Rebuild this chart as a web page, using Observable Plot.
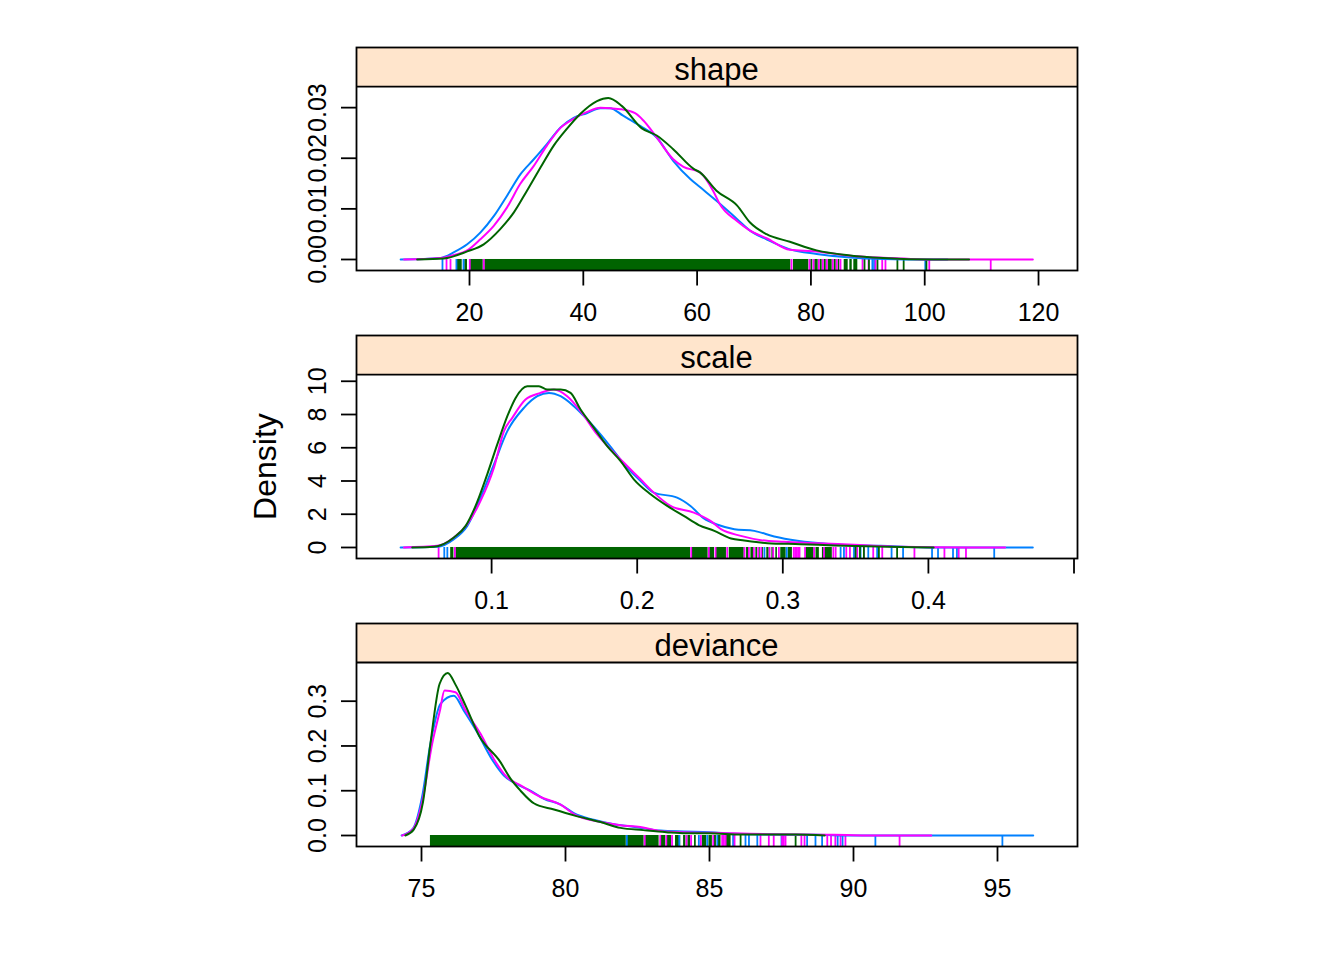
<!DOCTYPE html>
<html>
<head>
<meta charset="utf-8">
<script src="https://cdn.jsdelivr.net/npm/d3@7"></script>
<script src="https://cdn.jsdelivr.net/npm/@observablehq/plot@0.6"></script>
<style>
html,body{margin:0;background:#fff}
#chart{padding-top:35px;width:1344px}
#chart svg{display:block;overflow:visible;background:transparent;font-family:"Liberation Sans",Arial,sans-serif}
</style>
</head>
<body>
<div id="chart"></div>
<script>
const BLUE = "#0080ff", MAGENTA = "#ff00ff", GREEN = "#006400", STRIP = "#ffe5cc";

// ---- shape ----
const shapeBlueX = [7.9,14.9,17.2,19.6,21.9,24.3,26.6,29,31.3,33.6,36,38.3,40.6,43,44.7,47,50,52.9,55.8,58.8,60.5,63.4,67,69.3,72.2,76.3,81,86.9,92.7,100.3,104];
const shapeBlueY = [0,.0003,.0014,.003,.0053,.0086,.0126,.0169,.0198,.0228,.0261,.028,.0289,.0299,.0299,.0284,.0264,.0241,.0195,.0159,.0143,.0116,.008,.0057,.004,.002,.0011,.0004,.0001,0,0];
const shapeMagentaX = [8.5,14.9,17.25,19.6,21.9,24.3,26.6,28.9,31.3,33.6,36,38.3,40.6,43,46.5,49.1,50.6,52.9,55.8,57.6,60.5,62.8,64,67,69.3,72.2,76.3,81,85.7,89.8,94.2,100.3,119];
const shapeMagentaY = [0,.0003,.0009,.0018,.004,.0067,.0103,.0149,.0185,.0225,.026,.0278,.0291,.03,.0297,.0289,.0274,.0241,.0198,.0183,.0172,.0136,.0109,.0076,.0057,.0042,.0019,.0016,.0009,.0005,.0003,0,0];
const shapeGreenX = [10.8,15.5,19.6,22.5,25.4,27.8,30.1,32.5,34.8,37.1,39.5,42.4,44.4,46.8,50.3,52.9,55.8,59.4,60.5,63.4,67,69.3,72.2,76.3,81,86.9,92.7,101.5,107.8];
const shapeGreenY = [0,.0002,.0016,.003,.006,.0093,.0136,.0182,.0225,.0258,.0288,.0313,.0319,.0303,.0259,.0245,.0218,.0179,.0172,.0136,.0107,.0073,.005,.0035,.0018,.0008,.0003,0,0];
const shapeBandStart = [17.89,19.17,20.09,22.69,76.94,79.98,80.68,81.63,82.33,83.04,84.09,84.8,85.85,86.84,87.54];
const shapeBandEnd = [18.72,19.65,22.41,76.47,79.63,80.33,81.28,81.98,82.69,83.74,84.44,85.08,86.55,87.26,88.24];
const shapeRugBlue = [15.25,17.7,18.95,90.8,91.1,100.1];
const shapeRugMagenta = [15.96,16.66,20.05,22.51,76.6,79.75,80.46,81.4,82.1,82.8,83.85,84.55,85.2,89.07,90.13,91.35,92.53,93.1,100.8,111.6];
const shapeRugGreen = [89.42,90.2,91.7,95.2,96.3,100.3];
const shapeXTicks = [20,40,60,80,100,120];
const shapeYTicks = [0,.01,.02,.03];

// ---- scale ----
const scaleBlueX = [.0375,.0627,.0741,.0833,.0924,.1016,.1108,.1222,.1314,.1394,.1474,.1565,.1657,.1748,.184,.1931,.2023,.2114,.2274,.2366,.2458,.2553,.2667,.2804,.2941,.31,.3329,.3671,.4036,.4717];
const scaleBlueY = [0,.04,.5,1.3,3,5,7,8.4,9.1,9.3,9.1,8.5,7.7,6.8,5.8,4.8,4,3.3,3,2.5,1.75,1.37,1.1,1,.66,.4,.2,.1,0,0];
const scaleMagentaX = [.0398,.0627,.0741,.0833,.0924,.1016,.1085,.1142,.1233,.1336,.1428,.1519,.1611,.1725,.184,.1931,.2023,.2114,.2229,.2389,.2503,.2575,.2712,.285,.3009,.3237,.3489,.3808,.4265,.4527];
const scaleMagentaY = [0,.1,.6,1.4,2.8,4.8,7,7.8,8.9,9.3,9.5,9.1,8.2,6.8,5.7,4.9,4.1,3.3,2.5,2.1,1.6,1.1,.7,.44,.34,.26,.16,.04,0,0];
const scaleGreenX = [.0455,.0604,.0741,.0822,.089,.097,.1039,.1108,.1165,.1245,.1325,.1382,.1474,.1542,.1611,.1703,.1794,.1886,.1977,.2092,.2206,.232,.2423,.253,.2644,.2735,.2895,.3123,.3352,.3717,.4036];
const scaleGreenY = [0,.04,.6,1.3,2.5,4.4,6.2,7.9,9,9.7,9.7,9.5,9.5,9.3,8.3,7.2,6.1,5.2,4.1,3.2,2.5,1.9,1.35,1,.54,.42,.26,.2,.12,.04,0];
const scaleBandStart = [.0719,.0755,.2375,.2497,.2545,.2632,.2751,.2781,.2815,.284,.2861,.289,.2925,.2952,.2986,.3037,.316,.3228,.3272];
const scaleBandEnd = [.0741,.2366,.2487,.2531,.2613,.2735,.2765,.2799,.2826,.2845,.2868,.2906,.2936,.2963,.3023,.3066,.3215,.3251,.334];
const scaleRugBlue = [.0675,.0696,.2874,.3027,.3397,.342,.3489,.3534,.3587,.3648,.3747,.3826,.4025,.4066,.4169,.4196,.4452];
const scaleRugMagenta = [.0636,.0748,.2371,.2492,.2538,.2618,.2737,.2767,.2801,.2831,.2852,.2909,.2934,.2973,.3075,.3085,.3095,.3105,.3115,.3153,.3215,.3283,.3347,.3363,.3436,.3461,.3511,.3557,.3621,.3683,.3904,.411,.4208,.4258];
const scaleRugGreen = [.35,.353,.3557,.366,.3785];
const scaleXTicks = [.1,.2,.3,.4,.5];
const scaleXLabels = ["0.1","0.2","0.3","0.4",""];
const scaleYTicks = [0,2,4,6,8,10];

// ---- deviance ----
const devBlueX = [74.31,74.71,75.02,75.31,75.66,76.12,76.47,76.93,77.4,77.86,78.32,78.78,79.25,79.83,80.29,80.98,81.68,82.4,83.3,84.1,85,85.85,87,88.7,90,96.24];
const devBlueY = [0,.016,.086,.205,.294,.312,.279,.231,.175,.134,.114,.1,.082,.069,.05,.035,.025,.019,.011,.009,.0075,.004,.002,.0015,0,0];
const devMagentaX = [74.33,74.71,75.02,75.37,75.64,75.8,76.18,76.53,77.05,77.51,77.97,78.44,79.13,79.83,80.29,81.22,81.9,82.6,83.3,84.1,85,85.85,87,88.2,89.3,91,92.7];
const devMagentaY = [0,.015,.074,.205,.279,.324,.32,.279,.227,.171,.13,.112,.086,.069,.048,.03,.023,.019,.01,.007,.006,.005,.003,.002,.0015,0,0];
const devGreenX = [74.44,74.73,75.05,75.31,75.63,75.91,76.18,76.53,77,77.74,78.09,78.44,78.9,79.6,80.29,81.22,81.91,82.7,83.5,84.2,85,86.1,88,89];
const devGreenY = [0,.013,.074,.205,.339,.363,.337,.29,.223,.164,.127,.1,.072,.058,.045,.03,.017,.012,.0075,.005,.005,.002,.002,0];
const devBandStart = [75.31,82.14,82.78,83.3,83.52,83.82,84.1,84.25,84.48,84.75,84.98,85.15,85.29,85.59];
const devBandEnd = [82.11,82.73,83.25,83.48,83.68,84,84.18,84.34,84.54,84.9,85.1,85.24,85.4,85.75];
const devRugBlue = [82.13,83.95,84.63,84.92,85.27,85.82,86.25,86.37,86.66,87.5,88.39,88.68,88.91,89.45,89.62,90.76,95.17];
const devRugMagenta = [82.75,83.29,83.5,83.7,84.2,84.36,84.7,85.13,85.44,85.5,85.56,85.87,86.77,87.06,87.23,87.52,87.58,87.64,88.19,88.3,89.09,89.22,89.37,89.55,89.72,91.6];
const devRugGreen = [86.08,87.99];
const devXTicks = [75,80,85,90,95];
const devYTicks = [0,.1,.2,.3];

const panels = [
  {name:"shape", xDomain:[.14,126.85], yDomain:[-.002176,.04188], stripBottom:.03416,
   xTicks:shapeXTicks, xLabels:shapeXTicks.map(String), yTicks:shapeYTicks, yFmt:d3.format(".2f"),
   blue:[shapeBlueX,shapeBlueY], magenta:[shapeMagentaX,shapeMagentaY], green:[shapeGreenX,shapeGreenY],
   bandStart:shapeBandStart, bandEnd:shapeBandEnd, rugB:shapeRugBlue, rugM:shapeRugMagenta, rugG:shapeRugGreen},
  {name:"scale", xDomain:[.00721,.5024], yDomain:[-.6627,12.753], stripBottom:10.404,
   xTicks:scaleXTicks, xLabels:scaleXLabels, yTicks:scaleYTicks, yFmt:d3.format("d"),
   blue:[scaleBlueX,scaleBlueY], magenta:[scaleMagentaX,scaleMagentaY], green:[scaleGreenX,scaleGreenY],
   bandStart:scaleBandStart, bandEnd:scaleBandEnd, rugB:scaleRugBlue, rugM:scaleRugMagenta, rugG:scaleRugGreen,
   yLabel:"Density", yLabelAt:4.87},
  {name:"deviance", xDomain:[72.743,97.778], yDomain:[-.02457,.47353], stripBottom:.38642,
   xTicks:devXTicks, xLabels:devXTicks.map(String), yTicks:devYTicks, yFmt:d3.format(".1f"),
   blue:[devBlueX,devBlueY], magenta:[devMagentaX,devMagentaY], green:[devGreenX,devGreenY],
   bandStart:devBandStart, bandEnd:devBandEnd, rugB:devRugBlue, rugM:devRugMagenta, rugG:devRugGreen}
];

const LW = 1.8;
const CURVE_W = 2;
const root = document.getElementById("chart");
for (const p of panels) {
  const yMin = p.yDomain[0], yMax = p.yDomain[1];
  const rug = (vals, color) => Plot.ruleX(vals, {x: d => d, y1: 0, y2: yMin, stroke: color, strokeWidth: LW});
  const curve = ([xs, ys], color) => Plot.line(ys, {x: xs, y: ys, stroke: color, strokeWidth: CURVE_W, curve: "monotone-x"});
  const labelOf = new Map(p.xTicks.map((t, i) => [t, p.xLabels[i]]));
  const marks = [
    Plot.rect([p.name], {y1: p.stripBottom, y2: yMax, fill: STRIP}),
    Plot.rect(p.bandStart, {x1: d => d, x2: (d, i) => p.bandEnd[i], y1: 0, y2: yMin, fill: GREEN}),
    rug(p.rugB, BLUE),
    rug(p.rugM, MAGENTA),
    rug(p.rugG, GREEN),
    curve(p.blue, BLUE),
    curve(p.magenta, MAGENTA),
    curve(p.green, GREEN),
    Plot.ruleY([p.stripBottom], {stroke: "black", strokeWidth: LW}),
    Plot.frame({stroke: "black", strokeWidth: LW}),
    Plot.text([p.name], {x: (p.xDomain[0] + p.xDomain[1]) / 2, y: (p.stripBottom + yMax) / 2, dy: 3.5, dx: -0.5, fontSize: 31, fill: "black"}),
    Plot.axisX(p.xTicks, {anchor: "bottom", tickSize: 15.5, tickPadding: 17, fontSize: 25, strokeWidth: LW, stroke: "black", fill: "black", tickFormat: d => labelOf.get(d), label: null}),
    Plot.axisY(p.yTicks, {anchor: "left", tickSize: 15, strokeWidth: LW, stroke: "black", tickFormat: () => "", label: null}),
    Plot.text(p.yTicks, {y: d => d, text: p.yFmt, frameAnchor: "left", dx: -39, rotate: -90, fontSize: 25, fill: "black", textAnchor: "middle", lineAnchor: "middle"})
  ];
  if (p.yLabel) marks.push(Plot.text([p.yLabel], {y: p.yLabelAt, frameAnchor: "left", dx: -91, rotate: -90, fontSize: 32, fill: "black", textAnchor: "middle", lineAnchor: "middle"}));
  root.appendChild(Plot.plot({
    width: 1344, height: 288,
    marginLeft: 356, marginRight: 267, marginTop: 12, marginBottom: 53,
    x: {domain: p.xDomain}, y: {domain: p.yDomain},
    style: {background: "transparent", overflow: "visible", fontFamily: '"Liberation Sans",Arial,sans-serif'},
    marks
  }));
}
</script>
</body>
</html>
